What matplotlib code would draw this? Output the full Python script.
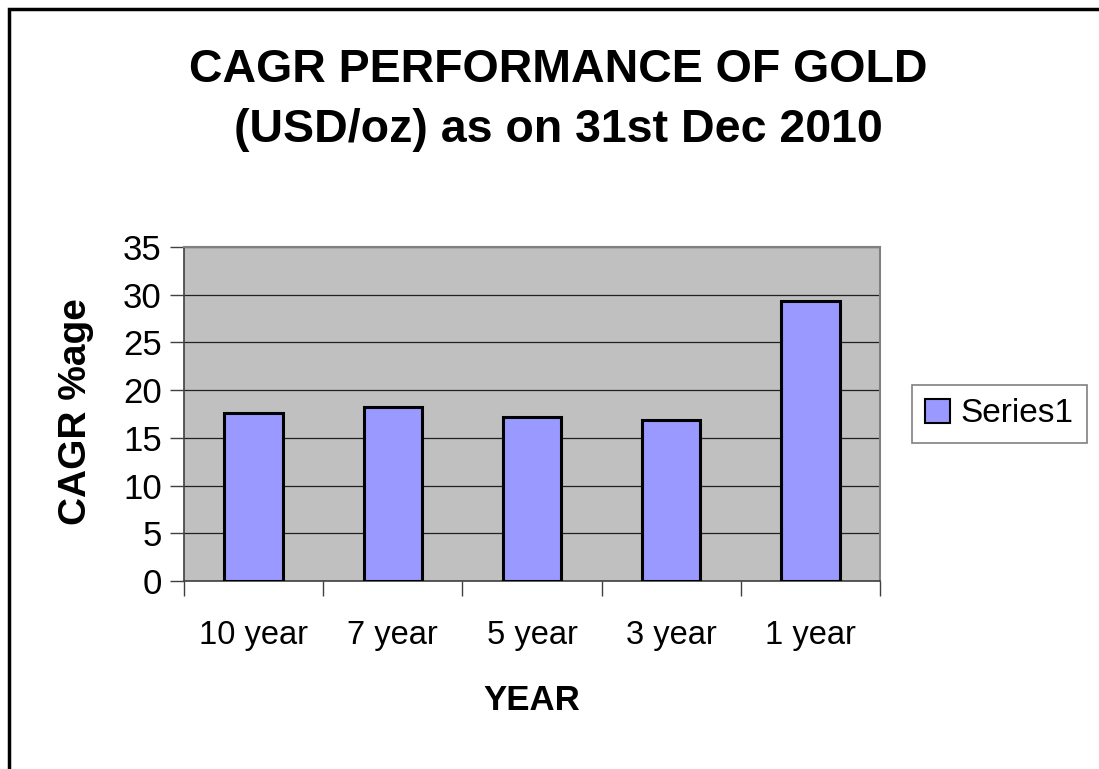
import matplotlib.pyplot as plt
from matplotlib.patches import Rectangle
import numpy as np

# CAGR of gold (USD/oz) up to 31 Dec 2010
periods = ["10 year", "7 year", "5 year", "3 year", "1 year"]
cagr = [17.6, 18.2, 17.2, 16.9, 29.3]
y_ticks = [0, 5, 10, 15, 20, 25, 30, 35]

plt.rcParams["font.family"] = ["Liberation Sans", "DejaVu Sans"]

fig = plt.figure(figsize=(10.99, 7.69), dpi=100)
ax = fig.add_axes([0.1674, 0.2445, 0.6333, 0.4343])
ax.set_facecolor("#C0C0C0")

x = np.arange(len(periods))
ax.bar(x, cagr, width=0.42, color="#9999FF", edgecolor="black",
       linewidth=2.2, zorder=3, label="Series1")

ax.set_xlim(-0.5, len(periods) - 0.5)
ax.set_ylim(0, 35)
ax.set_yticks(y_ticks)
ax.set_yticklabels([str(v) for v in y_ticks], fontsize=25)
ax.grid(axis="y", color="#202020", linewidth=0.9, zorder=1)

# category labels without marks, marks at the boundaries
ax.set_xticks(x)
ax.set_xticklabels(periods, fontsize=23.5)
ax.tick_params(axis="x", which="major", length=0, pad=28)
ax.set_xticks(np.arange(-0.5, len(periods)), minor=True)
ax.tick_params(axis="x", which="minor", length=11, width=1, color="#404040")
ax.tick_params(axis="y", length=10, width=1, color="#404040", pad=6)

for side in ["top", "right"]:
    ax.spines[side].set_color("#808080")
    ax.spines[side].set_linewidth(1.5)
for side in ["left", "bottom"]:
    ax.spines[side].set_color("#404040")
    ax.spines[side].set_linewidth(1.2)

fig.text(0.508, 1 - 70 / 769, "CAGR PERFORMANCE OF GOLD", fontsize=33.5,
         fontweight="bold", ha="center", va="center")
fig.text(0.508, 1 - 130 / 769, "(USD/oz) as on 31st Dec 2010", fontsize=33.5,
         fontweight="bold", ha="center", va="center")
fig.text(76 / 1099, 1 - 412 / 769, "CAGR %age", fontsize=28, fontweight="bold",
         rotation=90, ha="center", va="center")
fig.text(532 / 1099, 1 - 700 / 769, "YEAR", fontsize=25, fontweight="bold",
         ha="center", va="center")

leg = fig.legend(loc="center left", bbox_to_anchor=(912 / 1099, 1 - 414 / 769),
                 fontsize=24, frameon=True, fancybox=False, handlelength=0.75,
                 handleheight=0.75, handletextpad=0.3, borderpad=0.4,
                 borderaxespad=0)
leg.get_frame().set_edgecolor("#606060")
leg.get_frame().set_linewidth(1.2)
for h in leg.legend_handles:
    h.set_linewidth(1.5)

# outer chart border
fig.add_artist(Rectangle((9 / 1099, -0.05), 1.1, 0.05 + 1 - 9 / 769,
                         transform=fig.transFigure, fill=False,
                         edgecolor="black", linewidth=2.5))

fig.savefig("out.png", dpi=100)
